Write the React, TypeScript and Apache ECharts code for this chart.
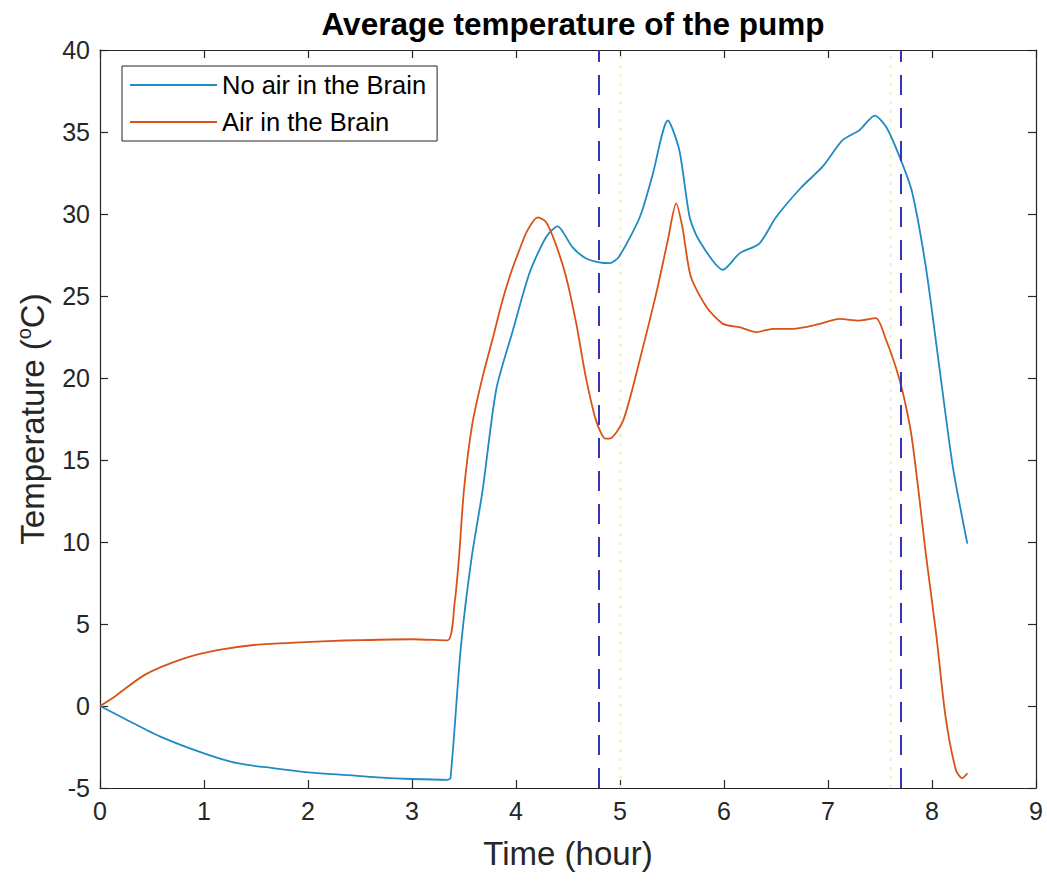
import React, { useEffect, useRef } from "react";
import * as echarts from "echarts";

// Time (hour) and temperature (°C) for "No air in the Brain"
const noAirTime = [
  0, 0.26, 0.58, 1.0, 1.32, 1.68, 2.0, 2.35, 2.67, 3.0, 3.34, 3.37, 3.47, 3.57, 3.68, 3.81, 3.97,
  4.13, 4.29, 4.4, 4.54, 4.67, 4.8, 4.9, 4.99, 5.19, 5.31, 5.46, 5.57, 5.67, 5.76, 5.99, 6.15,
  6.34, 6.5, 6.74, 6.95, 7.14, 7.3, 7.45, 7.56, 7.7, 7.81, 7.94, 8.07, 8.2, 8.34,
];
const noAirTemp = [
  0, -0.85, -1.87, -2.89, -3.49, -3.8, -4.05, -4.2, -4.35, -4.45, -4.5, -4.4, 3.6, 8.9, 13.2,
  19.3, 22.9, 26.4, 28.6, 29.25, 28.0, 27.3, 27.05, 27.0, 27.4, 29.8, 32.3, 35.7, 33.9, 29.8,
  28.4, 26.6, 27.6, 28.2, 29.8, 31.6, 32.9, 34.5, 35.1, 36.0, 35.3, 33.3, 31.3, 26.8, 20.7, 14.6,
  9.9,
];

// Time (hour) and temperature (°C) for "Air in the Brain"
const airTime = [
  0, 0.14, 0.43, 0.81, 1.13, 1.48, 1.87, 2.19, 2.51, 3.0, 3.34, 3.41, 3.45, 3.5, 3.58, 3.68, 3.78,
  3.86, 3.94, 4.02, 4.11, 4.21, 4.29, 4.38, 4.48, 4.58, 4.67, 4.77, 4.86, 4.9, 5.03, 5.19, 5.35,
  5.46, 5.54, 5.6, 5.68, 5.83, 5.99, 6.15, 6.31, 6.47, 6.66, 6.92, 7.11, 7.3, 7.46, 7.56, 7.65,
  7.72, 7.8, 7.88, 7.94, 8.04, 8.13, 8.23, 8.29, 8.34,
];
const airTemp = [
  0, 0.57, 1.9, 2.9, 3.4, 3.72, 3.86, 3.96, 4.02, 4.07, 4.0, 6.3, 8.9, 13.2, 17.2, 20.1, 22.5,
  24.5, 26.2, 27.6, 29.0, 29.8, 29.5, 28.2, 26.2, 23.3, 20.1, 17.4, 16.3, 16.3, 17.4, 21.1, 25.2,
  28.4, 30.65, 29.2, 26.2, 24.35, 23.3, 23.1, 22.8, 23.0, 23.0, 23.3, 23.6, 23.5, 23.65, 22.3,
  20.7, 19.1, 16.6, 12.6, 9.3, 4.4, -0.65, -3.9, -4.4, -4.1,
];

// Vertical reference lines (hour)
const dashedMarks = [4.8, 7.7];
const dottedMarks = [5.0, 7.6];

const seriesNames = ["No air in the Brain", "Air in the Brain"];
const xTicks = { min: 0, max: 9, interval: 1 };
const yTicks = { min: -5, max: 40, interval: 5 };

const FONT = "'Liberation Sans', Arial, Helvetica, sans-serif";
const AXIS_COLOR = "#262626";

function zip(xs: number[], ys: number[]) {
  return xs.map((x, i) => [x, ys[i]]);
}

export default function App() {
  const ref = useRef<HTMLDivElement>(null);

  useEffect(() => {
    document.body.style.margin = "0";
    const chart = echarts.init(ref.current!, null, { renderer: "svg" });
    const axisCommon = {
      axisLine: { show: true, onZero: false, lineStyle: { color: AXIS_COLOR, width: 1.2 } },
      axisTick: { show: true, inside: true, length: 8, lineStyle: { color: AXIS_COLOR, width: 1.2 } },
      splitLine: { show: false },
    };
    chart.setOption({
      animation: false,
      backgroundColor: "#ffffff",
      title: {
        text: "Average temperature of the pump",
        left: 568,
        textAlign: "center",
        top: 3,
        textStyle: { fontFamily: FONT, fontSize: 31.5, fontWeight: "bold", color: "#000000" },
      },
      legend: {
        data: seriesNames,
        orient: "vertical",
        left: 122,
        top: 66,
        padding: [4, 11, 4, 8],
        itemGap: 7,
        itemWidth: 87,
        itemHeight: 2,
        icon: "rect",
        borderColor: AXIS_COLOR,
        borderWidth: 1,
        backgroundColor: "#ffffff",
        textStyle: { fontFamily: FONT, fontSize: 25.5, color: "#000000", lineHeight: 30 },
      },
      grid: { left: 100, right: 11, top: 50, bottom: 95, containLabel: false },
      xAxis: [
        {
          type: "value",
          position: "bottom",
          ...xTicks,
          ...axisCommon,
          name: "Time (hour)",
          nameLocation: "middle",
          nameGap: 49,
          nameTextStyle: { fontFamily: FONT, fontSize: 33, color: AXIS_COLOR },
          axisLabel: { fontFamily: FONT, fontSize: 25, color: AXIS_COLOR, margin: 10 },
        },
        {
          type: "value",
          position: "top",
          ...xTicks,
          ...axisCommon,
          axisLabel: { show: false },
        },
      ],
      yAxis: [
        {
          type: "value",
          position: "left",
          ...yTicks,
          ...axisCommon,
          name: "Temperature ({sup|o}C)",
          nameLocation: "middle",
          nameGap: 50,
          nameTextStyle: {
            fontFamily: FONT,
            fontSize: 33,
            color: AXIS_COLOR,
            rich: {
              sup: {
                fontFamily: FONT,
                fontSize: 20,
                color: AXIS_COLOR,
                verticalAlign: "top",
                padding: [0, 0, 16, 0],
              },
            },
          },
          axisLabel: { fontFamily: FONT, fontSize: 25, color: AXIS_COLOR, margin: 10 },
        },
        {
          type: "value",
          position: "right",
          ...yTicks,
          ...axisCommon,
          axisLabel: { show: false },
        },
      ],
      series: [
        {
          name: seriesNames[0],
          type: "line",
          data: zip(noAirTime, noAirTemp),
          symbol: "none",
          smooth: 0.25,
          lineStyle: { color: "#1f8ac4", width: 1.8 },
          itemStyle: { color: "#1f8ac4" },
          z: 3,
        },
        {
          name: seriesNames[1],
          type: "line",
          data: zip(airTime, airTemp),
          symbol: "none",
          smooth: 0.25,
          lineStyle: { color: "#D95319", width: 1.8 },
          itemStyle: { color: "#D95319" },
          z: 3,
        },
        {
          name: "dotted",
          type: "line",
          data: [],
          z: 1,
          markLine: {
            silent: true,
            z: 1,
            symbol: "none",
            label: { show: false },
            lineStyle: { color: "#f8f2b8", type: [3, 6], width: 2.5 },
            data: dottedMarks.map((v) => ({ xAxis: v })),
          },
        },
        {
          name: "dashed",
          type: "line",
          data: [],
          z: 4,
          markLine: {
            silent: true,
            z: 4,
            symbol: "none",
            label: { show: false },
            lineStyle: { color: "#3434b4", type: [20, 13], width: 2 },
            data: dashedMarks.map((v) => ({ xAxis: v })),
          },
        },
      ],
    });
    return () => chart.dispose();
  }, []);

  return <div ref={ref} style={{ width: 1047, height: 883 }} />;
}
